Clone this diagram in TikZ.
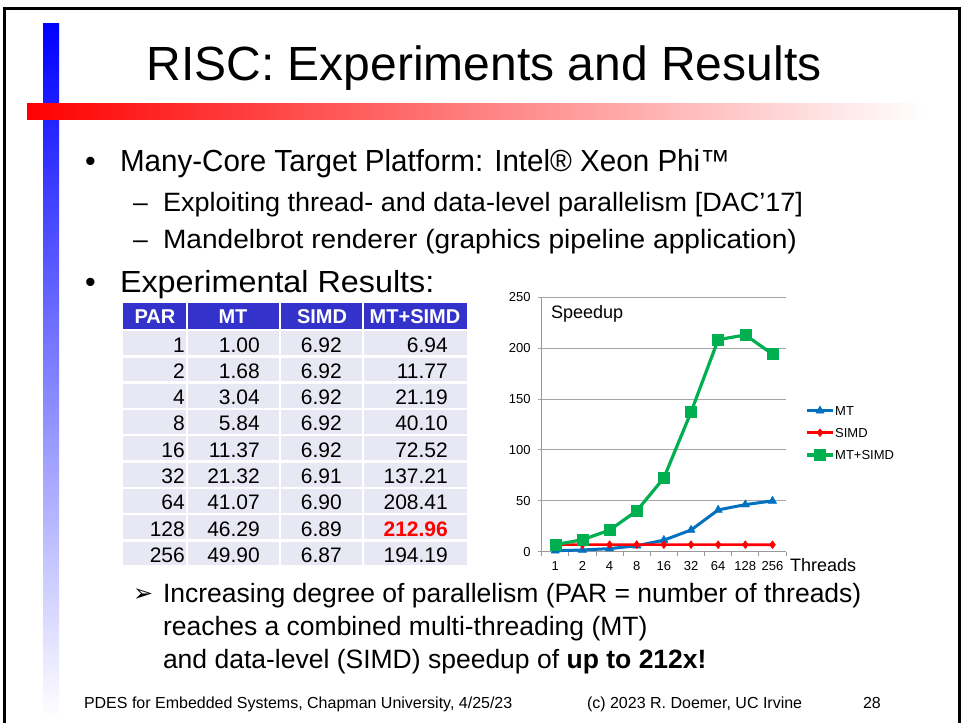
\documentclass[tikz,border=0pt]{standalone}
\usepackage{fontspec}
\setmainfont{Liberation Sans}
\newfontfamily\symfont{DejaVu Sans}
\usetikzlibrary{plotmarks}
\definecolor{hdblue}{RGB}{51,51,204}
\definecolor{cellbg}{RGB}{232,232,244}
\definecolor{mtblue}{RGB}{0,112,192}
\definecolor{mtsimdgreen}{RGB}{0,176,80}
\definecolor{gridgray}{RGB}{166,166,166}
\newcommand{\fsz}[1]{\fontsize{#1}{#1}\selectfont}
\newcommand{\wide}[2]{\scalebox{#1}[1]{#2}}
\tikzset{
  txt/.style={anchor=base west,inner sep=0pt,outer sep=0pt},
  lvlone/.style={txt,font=\fsz{30.5}},
  lvltwo/.style={txt,font=\fsz{26.5}},
  foot/.style={txt,font=\fsz{16}},
  hdcell/.style={fill=hdblue,draw=white,line width=2.5pt},
  bodycell/.style={fill=cellbg,draw=white,line width=2.5pt},
  hdtext/.style={anchor=base,inner sep=0pt,text=white,font=\fsz{20}\bfseries},
  celltext/.style={anchor=base east,inner sep=0pt,font=\fsz{21}},
  axisline/.style={draw=gray!80,line width=1pt},
  gridline/.style={draw=gridgray,line width=1pt},
  ticklbl/.style={inner sep=0pt,font=\fsz{13}},
  mtline/.style={color=mtblue,line width=3pt,line join=round},
  simdline/.style={color=red,line width=2.6pt,line join=round},
  bothline/.style={color=mtsimdgreen,line width=3.2pt,line join=round},
  mtmark/.style={mark=triangle*,mark size=4.8pt,mark options={line width=0.4pt}},
  simdmark/.style={mark=diamond*,mark size=4pt,mark options={line width=0.4pt}},
  bothmark/.style={mark=square*,mark size=5.5pt,mark options={line width=0.4pt}}
}

\begin{document}
\begin{tikzpicture}[x=1pt,y=-1pt]
  \useasboundingbox (0,0) rectangle (963,723);
  \shade[top color=blue,bottom color=white] (43,23) rectangle (59,718);
  \shade[left color=red,right color=white] (27,103) rectangle (925,119);
  \draw[line width=3pt] (4.5,723) -- (4.5,8.5) -- (959.5,8.5) -- (959.5,723);
  \node[anchor=base,inner sep=0pt,font=\fsz{48}] (title) at (484,80.7) {RISC: Experiments and Results};

  \node[lvlone] (bulA) at (85,171) {\textbullet};
  \node[lvlone] (itemA) at (120,171) {\wide{0.97}{Many-Core Target Platform: Intel® Xeon Phi™}};
  \node[lvltwo] (dashA) at (133,211) {–};
  \node[lvltwo] (subA) at (163,211) {\wide{1.02}{Exploiting thread- and data-level parallelism [DAC’17]}};
  \node[lvltwo] (dashB) at (133,248) {–};
  \node[lvltwo] (subB) at (163,248) {\wide{1.06}{Mandelbrot renderer (graphics pipeline application)}};
  \node[lvlone] (bulB) at (85,292) {\textbullet};
  \node[lvlone] (itemB) at (120,292) {\wide{1.06}{Experimental Results:}};

  \draw[hdcell] (122,302) rectangle (187,330);
  \draw[hdcell] (187,302) rectangle (280,330);
  \draw[hdcell] (280,302) rectangle (363,330);
  \draw[hdcell] (363,302) rectangle (468,330);
  \node[hdtext] (hpar) at (155,323) {PAR};
  \node[hdtext] (hmt) at (233,323) {MT};
  \node[hdtext] (hsimd) at (322,323) {SIMD};
  \node[hdtext] (hboth) at (415,323) {MT+SIMD};
  \foreach \p/\m/\s/\b [count=\r] in {1/1.00/6.92/6.94, 2/1.68/6.92/11.77, 4/3.04/6.92/21.19,
      8/5.84/6.92/40.10, 16/11.37/6.92/72.52, 32/21.32/6.91/137.21, 64/41.07/6.90/208.41,
      128/46.29/6.89/{\bfseries\color{red}212.96}, 256/49.90/6.87/194.19} {
    \pgfmathsetmacro{\yt}{330+26.3*(\r-1)}
    \pgfmathsetmacro{\yb}{\yt+26.3}
    \draw[bodycell] (122,\yt) rectangle (187,\yb);
    \draw[bodycell] (187,\yt) rectangle (280,\yb);
    \draw[bodycell] (280,\yt) rectangle (363,\yb);
    \draw[bodycell] (363,\yt) rectangle (468,\yb);
    \node[celltext] (cpar\r) at (185,\yt+22) {\p};
    \node[celltext] (cmt\r) at (260,\yt+22) {\m};
    \node[celltext] (csimd\r) at (342,\yt+22) {\s};
    \node[celltext] (cboth\r) at (448,\yt+22) {\b};
  }

  \begin{scope}[shift={(541.7,551.7)},x=27.15pt,y=1.0176pt]
    \foreach \v in {50,100,...,250}
      \draw[gridline] (0,\v) ++(-4pt,0pt) -- (9,\v);
    \draw[axisline] (0,0) -- (0,250);
    \draw[axisline] (0,0) ++(-4pt,0pt) -- (9,0);
    \foreach \i in {0,...,9}
      \draw[axisline] (\i,0) -- ++(0pt,-4pt);
    \foreach \v in {0,50,...,250}
      \node[ticklbl,anchor=east] (yl\v) at (0,\v) [xshift=-11pt] {\v};
    \foreach \t [count=\i] in {1,2,4,8,16,32,64,128,256}
      \node[ticklbl,anchor=base] (xl\i) at (\i-0.5,0) [yshift=-18.5pt] {\t};
    \draw[mtline] plot[mtmark] coordinates {(0.5,1.00) (1.5,1.68) (2.5,3.04) (3.5,5.84)
      (4.5,11.37) (5.5,21.32) (6.5,41.07) (7.5,46.29) (8.5,49.90)};
    \draw[simdline] plot[simdmark] coordinates {(0.5,6.92) (1.5,6.92) (2.5,6.92) (3.5,6.92)
      (4.5,6.92) (5.5,6.91) (6.5,6.90) (7.5,6.89) (8.5,6.87)};
    \draw[bothline] plot[bothmark] coordinates {(0.5,6.94) (1.5,11.77) (2.5,21.19) (3.5,40.10)
      (4.5,72.52) (5.5,137.21) (6.5,208.41) (7.5,212.96) (8.5,194.19)};
  \end{scope}
  \node[txt,font=\fsz{18}] (speedup) at (551,318) {Speedup};
  \node[txt,font=\fsz{18}] (threads) at (790,571) {Threads};

  \draw[mtline] (806.7,410.7) -- (833,410.7);
  \draw[mtline] plot[mtmark] coordinates {(820,410.7)};
  \node[ticklbl,anchor=west] (lgmt) at (835,410.7) {MT};
  \draw[simdline] (806.7,432.7) -- (833,432.7);
  \draw[simdline] plot[simdmark] coordinates {(820,432.7)};
  \node[ticklbl,anchor=west] (lgsimd) at (835,432.7) {SIMD};
  \draw[bothline] (806.7,455) -- (833,455);
  \draw[bothline] plot[bothmark] coordinates {(820,455)};
  \node[ticklbl,anchor=west] (lgboth) at (835,455) {MT+SIMD};

  \node[txt,font=\symfont\fsz{24}] (arrow) at (133,601) {➢};
  \node[lvltwo] (sumA) at (163,602) {Increasing degree of parallelism (PAR = number of threads)};
  \node[lvltwo] (sumB) at (163,635) {reaches a combined multi-threading (MT)};
  \node[lvltwo] (sumC) at (163,668) {and data-level (SIMD) speedup of \textbf{up to 212x!}};

  \node[foot] (footA) at (84,708) {PDES for Embedded Systems, Chapman University, 4/25/23};
  \node[foot] (footB) at (587,708) {(c) 2023 R. Doemer, UC Irvine};
  \node[foot] (footC) at (863,708) {28};
\end{tikzpicture}
\end{document}
